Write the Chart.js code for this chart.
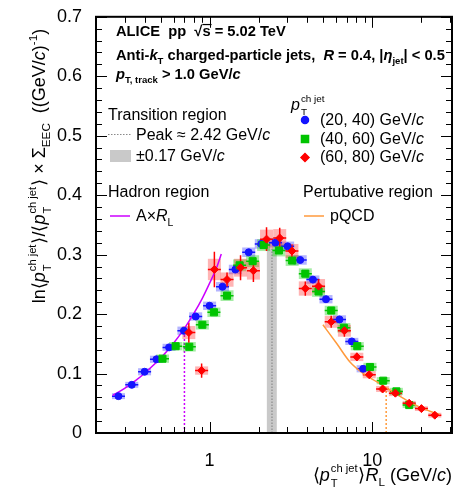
<!DOCTYPE html>
<html>
<head>
<meta charset="utf-8">
<script src="https://cdn.jsdelivr.net/npm/chart.js@4.4.0/dist/chart.umd.min.js"></script>
<style>
  html, body { margin: 0; padding: 0; background: #fff; }
  canvas { display: block; }
</style>
</head>
<body>
<canvas id="eec" width="466" height="494"></canvas>
<script>
const FONT = "'Liberation Sans', Arial, sans-serif";
const BLUE = "#1414ff", GREEN = "#00c400", RED = "#ff0000";
const MAGENTA = "#cc00ff", ORANGE = "#ff9a3c";

// pT ch jet (20, 40) GeV/c
const blueX = [0.275, 0.332, 0.398, 0.471, 0.563, 0.695, 0.821, 1.00, 1.20, 1.44, 1.74, 2.08, 2.54, 3.02, 3.61, 4.32, 5.2, 6.3, 7.5, 8.8];
const blueY = [0.062, 0.081, 0.103, 0.124, 0.144, 0.172, 0.196, 0.214, 0.246, 0.275, 0.304, 0.318, 0.320, 0.314, 0.291, 0.258, 0.225, 0.191, 0.154, 0.108];
const blueStat = [0.002, 0.002, 0.002, 0.002, 0.002, 0.002, 0.002, 0.002, 0.003, 0.003, 0.003, 0.003, 0.003, 0.003, 0.003, 0.003, 0.003, 0.003, 0.003, 0.003];
const blueSys = [0.005, 0.005, 0.006, 0.006, 0.006, 0.007, 0.007, 0.007, 0.008, 0.008, 0.008, 0.008, 0.008, 0.008, 0.008, 0.007, 0.007, 0.007, 0.006, 0.006];

// pT ch jet (40, 60) GeV/c
const greenX = [0.513, 0.618, 0.750, 0.902, 1.063, 1.28, 1.53, 1.84, 2.15, 2.67, 3.22, 3.88, 4.68, 5.6, 6.7, 8.1, 9.7, 11.7, 14.1, 16.9];
const greenY = [0.125, 0.146, 0.145, 0.182, 0.203, 0.231, 0.282, 0.289, 0.316, 0.307, 0.290, 0.268, 0.238, 0.206, 0.177, 0.146, 0.111, 0.088, 0.070, 0.047];
const greenStat = [0.003, 0.003, 0.003, 0.003, 0.003, 0.003, 0.003, 0.003, 0.003, 0.003, 0.003, 0.003, 0.003, 0.003, 0.003, 0.003, 0.003, 0.003, 0.003, 0.003];
const greenSys = [0.007, 0.007, 0.008, 0.008, 0.008, 0.009, 0.010, 0.010, 0.010, 0.010, 0.009, 0.009, 0.009, 0.008, 0.008, 0.007, 0.007, 0.006, 0.006, 0.005];

// pT ch jet (60, 80) GeV/c
const redX = [0.745, 0.893, 1.07, 1.28, 1.55, 1.86, 2.24, 2.70, 3.21, 3.88, 4.68, 5.6, 6.75, 8.05, 9.6, 11.6, 13.9, 16.9, 20.1, 24.3];
const redY = [0.169, 0.105, 0.275, 0.258, 0.278, 0.273, 0.326, 0.328, 0.306, 0.243, 0.247, 0.187, 0.172, 0.128, 0.098, 0.074, 0.067, 0.050, 0.041, 0.030];
const redStat = [0.017, 0.012, 0.030, 0.012, 0.021, 0.019, 0.020, 0.017, 0.011, 0.012, 0.012, 0.010, 0.010, 0.007, 0.006, 0.005, 0.005, 0.004, 0.004, 0.004];
const redSys = [0.011, 0.007, 0.018, 0.012, 0.015, 0.015, 0.016, 0.015, 0.012, 0.012, 0.012, 0.010, 0.010, 0.007, 0.006, 0.005, 0.005, 0.004, 0.004, 0.004];

// hadron region fit (A x R_L) and pQCD curve
const hadronX = [0.253, 0.30, 0.35, 0.40, 0.50, 0.60, 0.70, 0.80, 0.90, 1.00, 1.10, 1.18];
const hadronY = [0.063, 0.075, 0.088, 0.101, 0.126, 0.151, 0.176, 0.201, 0.226, 0.252, 0.277, 0.301];
const pqcdX = [4.98, 6.07, 7.33, 8.83, 10.7, 12.9, 16.3, 20.6, 26.0];
const pqcdY = [0.182, 0.150, 0.119, 0.100, 0.086, 0.072, 0.055, 0.041, 0.031];

// transition region
const peakPos = 2.42, peakErr = 0.17, peakTop = 0.31;
const hadronEdge = 0.70, hadronEdgeTop = 0.172;
const pqcdEdge = 12.2, pqcdEdgeTop = 0.080;

const xLabels = [1, 10];
const xMin = 0.2, xMax = 31, yMin = 0, yMax = 0.7;

const toPoints = (xs, ys) => xs.map((x, i) => ({ x: x, y: ys[i] }));

const series = [
  { x: blueX, y: blueY, stat: blueStat, sys: blueSys, color: BLUE, fill: "rgba(40, 40, 255, 0.35)" },
  { x: greenX, y: greenY, stat: greenStat, sys: greenSys, color: GREEN, fill: "rgba(0, 200, 0, 0.35)" },
  { x: redX, y: redY, stat: redStat, sys: redSys, color: RED, fill: "rgba(255, 40, 40, 0.35)" }
];

// rich text: parts are [text, flags]; b bold, i italic, _ sub, ^ sup, o overline, S stacked [sup, sub]
function drawRich(ctx, x, y, parts, size, paint = true) {
  let cx = x;
  for (const [txt, fl = ""] of parts) {
    const b = fl.includes("b") ? "bold " : "";
    const it = fl.includes("i") ? "italic " : "";
    if (fl.includes("S")) {
      const s = size * 0.62;
      ctx.font = `${b}${s}px ${FONT}`;
      const w1 = ctx.measureText(txt[0]).width, w2 = ctx.measureText(txt[1]).width;
      if (paint) {
        ctx.fillText(txt[0], cx + 1, y - size * 0.48);
        ctx.fillText(txt[1], cx + 1, y + size * 0.32);
      }
      cx += Math.max(w1, w2) + 2;
      continue;
    }
    let s = size, dy = 0;
    if (fl.includes("_")) { s = size * 0.65; dy = size * 0.3; }
    if (fl.includes("^")) { s = size * 0.65; dy = -size * 0.42; }
    ctx.font = `${it}${b}${s}px ${FONT}`;
    const w = ctx.measureText(txt).width;
    if (paint) {
      ctx.fillText(txt, cx, y + dy);
      if (fl.includes("o")) {
        ctx.fillRect(cx, y - size * 0.82, w + 1, 1.2);
      }
    }
    cx += w;
  }
  return cx - x;
}

const errorPlugin = {
  id: "errors",
  beforeDatasetsDraw(chart) {
    const { ctx, scales: { x, y } } = chart;
    ctx.save();
    // transition band and peak position
    const y0 = y.getPixelForValue(0);
    const bl = x.getPixelForValue(peakPos - peakErr), br = x.getPixelForValue(peakPos + peakErr);
    ctx.fillStyle = "#c9c9c9";
    ctx.fillRect(bl, y.getPixelForValue(peakTop), br - bl, y0 - y.getPixelForValue(peakTop));
    ctx.strokeStyle = "#8a8a8a";
    ctx.lineWidth = 1.2;
    ctx.setLineDash([1.5, 1.5]);
    ctx.beginPath();
    ctx.moveTo(x.getPixelForValue(peakPos), y0);
    ctx.lineTo(x.getPixelForValue(peakPos), y.getPixelForValue(peakTop));
    ctx.stroke();
    // region edges
    ctx.lineWidth = 1.5;
    ctx.setLineDash([2, 2]);
    ctx.strokeStyle = MAGENTA;
    ctx.beginPath();
    ctx.moveTo(x.getPixelForValue(hadronEdge), y0);
    ctx.lineTo(x.getPixelForValue(hadronEdge), y.getPixelForValue(hadronEdgeTop));
    ctx.stroke();
    ctx.strokeStyle = ORANGE;
    ctx.beginPath();
    ctx.moveTo(x.getPixelForValue(pqcdEdge), y0);
    ctx.lineTo(x.getPixelForValue(pqcdEdge), y.getPixelForValue(pqcdEdgeTop));
    ctx.stroke();
    ctx.setLineDash([]);

    const half = Math.pow(10, 0.04);
    // systematic boxes
    series.forEach(s => {
      ctx.fillStyle = s.fill;
      s.x.forEach((v, i) => {
        const l = x.getPixelForValue(v / half), r = x.getPixelForValue(v * half);
        const t = y.getPixelForValue(s.y[i] + s.sys[i]), b = y.getPixelForValue(s.y[i] - s.sys[i]);
        ctx.fillRect(l, t, r - l, b - t);
      });
    });
    // statistical bars
    series.forEach(s => {
      ctx.strokeStyle = s.color;
      ctx.lineWidth = 1.5;
      s.x.forEach((v, i) => {
        const px = x.getPixelForValue(v), py = y.getPixelForValue(s.y[i]);
        ctx.beginPath();
        ctx.moveTo(px, y.getPixelForValue(s.y[i] + s.stat[i]));
        ctx.lineTo(px, y.getPixelForValue(s.y[i] - s.stat[i]));
        ctx.moveTo(x.getPixelForValue(v / half), py);
        ctx.lineTo(x.getPixelForValue(v * half), py);
        ctx.stroke();
      });
    });
    ctx.restore();
  }
};

const framePlugin = {
  id: "frame",
  afterDraw(chart) {
    const { ctx, chartArea: a, scales: { x, y } } = chart;
    ctx.save();
    ctx.strokeStyle = "#000";
    ctx.lineWidth = 1;
    ctx.beginPath();
    // y ticks, inward on both sides
    for (let k = 0; k <= 35; k++) {
      const py = Math.round(y.getPixelForValue(k * 0.02)) + 0.5;
      const len = k % 5 === 0 ? 11 : 6;
      ctx.moveTo(a.left, py); ctx.lineTo(a.left + len, py);
      ctx.moveTo(a.right, py); ctx.lineTo(a.right - len, py);
    }
    // x ticks on a log axis
    for (let d = 0.1; d <= 10; d *= 10) {
      for (let m = 1; m <= 9; m++) {
        const v = d * m;
        if (v < xMin || v > xMax) continue;
        const px = Math.round(x.getPixelForValue(v)) + 0.5;
        const len = m === 1 ? 11 : 6;
        ctx.moveTo(px, a.bottom); ctx.lineTo(px, a.bottom - len);
        ctx.moveTo(px, a.top); ctx.lineTo(px, a.top + len);
      }
    }
    ctx.stroke();
    ctx.lineWidth = 2;
    ctx.strokeRect(a.left, a.top, a.right - a.left, a.bottom - a.top);

    ctx.fillStyle = "#000";
    ctx.textBaseline = "alphabetic";
    ctx.textAlign = "left";

    // header
    drawRich(ctx, 116, 36, [["ALICE  pp  \u221A", "b"], ["s", "bo"], [" = 5.02 TeV", "b"]], 14.7);
    drawRich(ctx, 116, 60, [["Anti-", "b"], ["k", "bi"], ["T", "b_"], [" charged-particle jets,  ", "b"], ["R", "bi"], [" = 0.4, |", "b"], ["\u03B7", "bi"], ["jet", "b_"], ["| < 0.5", "b"]], 14.7);
    drawRich(ctx, 116, 79, [["p", "bi"], ["T, track", "b_"], [" > 1.0 GeV/", "b"], ["c", "bi"]], 14.7);

    // transition legend
    drawRich(ctx, 108, 120, [["Transition region", ""]], 16);
    ctx.strokeStyle = "#8a8a8a";
    ctx.lineWidth = 1.2;
    ctx.setLineDash([1.5, 1.5]);
    ctx.beginPath(); ctx.moveTo(108, 134.5); ctx.lineTo(131, 134.5); ctx.stroke();
    ctx.setLineDash([]);
    drawRich(ctx, 136, 140, [["Peak \u2248 2.42 GeV/", ""], ["c", "i"]], 16);
    ctx.fillStyle = "#c9c9c9";
    ctx.fillRect(110, 150, 21, 12);
    ctx.fillStyle = "#000";
    drawRich(ctx, 136, 161, [["\u00B10.17 GeV/", ""], ["c", "i"]], 16);

    // hadron / perturbative legends
    drawRich(ctx, 108, 197, [["Hadron region", ""]], 16);
    ctx.lineWidth = 1.5;
    ctx.strokeStyle = MAGENTA;
    ctx.beginPath(); ctx.moveTo(110, 216); ctx.lineTo(130, 216); ctx.stroke();
    drawRich(ctx, 136, 221, [["A\u00D7", ""], ["R", "i"], ["L", "_"]], 16);
    drawRich(ctx, 303, 197, [["Pertubative region", ""]], 16);
    ctx.strokeStyle = ORANGE;
    ctx.beginPath(); ctx.moveTo(304, 216); ctx.lineTo(324, 216); ctx.stroke();
    drawRich(ctx, 330, 221, [["pQCD", ""]], 16);

    // series legend
    drawRich(ctx, 291, 110, [["p", "i"], [["ch jet", "T"], "S"]], 16);
    const rows = [["(20, 40) GeV/", 120, "circle", 3.5], ["(40, 60) GeV/", 139, "rect", 5], ["(60, 80) GeV/", 157.5, "rectRot", 4]];
    rows.forEach(([label, py, style, rad], i) => {
      const c = series[i].color;
      ctx.fillStyle = c; ctx.strokeStyle = c;
      Chart.helpers.drawPoint(ctx, { pointStyle: style, radius: rad, borderWidth: 1, rotation: 0 }, 305, py);
      ctx.fill();
      ctx.fillStyle = "#000";
      drawRich(ctx, 320, py + 4.5, [[label, ""], ["c", "i"]], 16);
    });

    // axis titles
    const xt = [["\u27E8", ""], ["p", "i"], [["ch jet", "T"], "S"], ["\u27E9", ""], ["R", "i"], ["L", "_"], [" (GeV/", ""], ["c", "i"], [")", ""]];
    const xw = drawRich(ctx, 0, 0, xt, 18, false);
    drawRich(ctx, 452 - xw, 481, xt, 18);

    const yt = [["ln\u27E8", ""], ["p", "i"], [["ch jet", "T"], "S"], ["\u27E9/\u27E8", ""], ["p", "i"], [["ch jet", "T"], "S"], ["\u27E9 \u00D7 \u03A3", ""], ["EEC", "_"], ["  ((GeV/", ""], ["c", "i"], [")", ""], ["-1", "^"], [")", ""]];
    const yw = drawRich(ctx, 0, 0, yt, 18, false);
    ctx.translate(45, 166);
    ctx.rotate(-Math.PI / 2);
    drawRich(ctx, -yw / 2, 0, yt, 18);
    ctx.restore();
  }
};

new Chart(document.getElementById("eec"), {
  type: "scatter",
  data: {
    datasets: [
      { data: toPoints(hadronX, hadronY), showLine: true, borderColor: MAGENTA, borderWidth: 1.5, pointRadius: 0, cubicInterpolationMode: "monotone", order: 5 },
      { data: toPoints(pqcdX, pqcdY), showLine: true, borderColor: ORANGE, borderWidth: 1.5, pointRadius: 0, cubicInterpolationMode: "monotone", order: 5 },
      { data: toPoints(blueX, blueY), pointStyle: "circle", pointRadius: 3.5, backgroundColor: BLUE, borderColor: BLUE, borderWidth: 1, order: 3 },
      { data: toPoints(greenX, greenY), pointStyle: "rect", pointRadius: 5, backgroundColor: GREEN, borderColor: GREEN, borderWidth: 1, order: 2 },
      { data: toPoints(redX, redY), pointStyle: "rectRot", pointRadius: 4, backgroundColor: RED, borderColor: RED, borderWidth: 1, order: 1 }
    ]
  },
  options: {
    responsive: false,
    animation: false,
    devicePixelRatio: 1,
    layout: { padding: { top: 14, right: 14, left: 0, bottom: 0 } },
    plugins: { legend: { display: false }, tooltip: { enabled: false } },
    scales: {
      x: {
        type: "logarithmic",
        min: xMin,
        max: xMax,
        grid: { display: false },
        border: { display: false },
        afterFit: s => { s.height = 61; },
        ticks: {
          autoSkip: false,
          maxRotation: 0,
          padding: 9,
          color: "#000",
          font: { family: FONT, size: 18 },
          callback: v => xLabels.find(l => Math.abs(l - v) < 1e-9) !== undefined ? String(v) : ""
        }
      },
      y: {
        min: yMin,
        max: yMax,
        grid: { display: false },
        border: { display: false },
        afterFit: s => { s.width = 96; },
        ticks: {
          stepSize: 0.1,
          padding: 6,
          color: "#000",
          font: { family: FONT, size: 18 },
          callback: v => v === 0 ? "0" : v.toFixed(1)
        }
      }
    }
  },
  plugins: [errorPlugin, framePlugin]
});
</script>
</body>
</html>
